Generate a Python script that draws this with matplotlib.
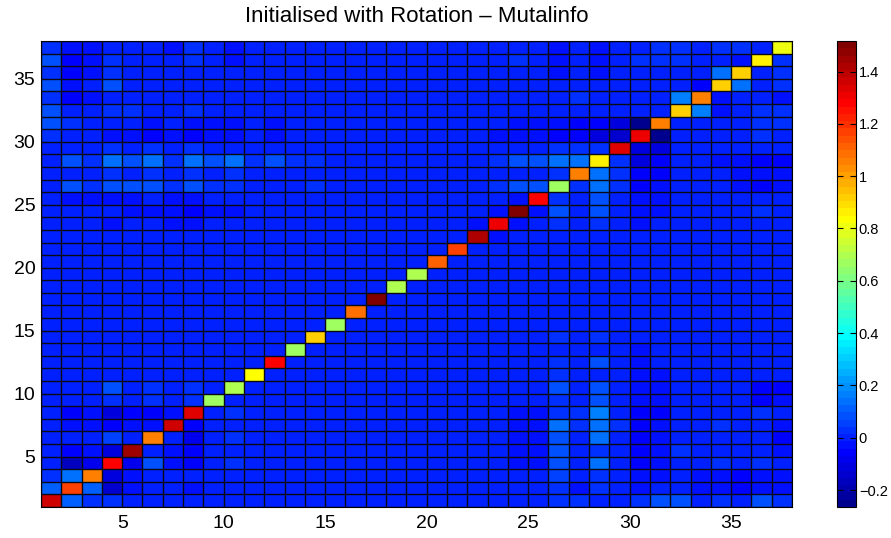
import numpy as np
import matplotlib
matplotlib.use("Agg")
import matplotlib.pyplot as plt
from matplotlib.colors import ListedColormap

plt.rcParams['font.family'] = ['Liberation Sans', 'DejaVu Sans']

title = "Initialised with Rotation \u2013 Mutalinfo"
xticks = [5, 10, 15, 20, 25, 30, 35]
yticks = [5, 10, 15, 20, 25, 30, 35]
cbar_ticks = [-0.2, 0, 0.2, 0.4, 0.6, 0.8, 1, 1.2, 1.4]
cbar_labels = ['\u22120.2', '0', '0.2', '0.4', '0.6', '0.8', '1', '1.2', '1.4']
clim = (-0.265, 1.517)

# diagonal values, row/column 1 .. 37
diagonal = [1.35, 1.17, 1.06, 1.28, 1.46, 1.06, 1.35, 1.34, 0.67, 0.69,
            0.84, 1.28, 0.67, 0.93, 0.67, 1.08, 1.51, 0.70, 0.70, 1.11,
            1.17, 1.43, 1.32, 1.51, 1.28, 0.67, 1.06, 0.85, 1.34, 1.31,
            1.06, 0.92, 1.06, 0.92, 0.92, 0.85, 0.81]

Z = [0] * 10
# off-diagonal values, rows listed bottom (row 1) to top (row 37); 37 columns each
# (diagonal entries here are placeholders replaced by `diagonal`)
values = [
    [0, .12, .04, .02, 0, 0, 0, 0, 0, 0] + Z + [0, 0, 0, 0, 0, .04, .02, 0, 0, .04] + [.08, .08, 0, .04, 0, .08, .04],
    [.12, 0, .12, -.15, -.02, 0, 0, -.02, 0, 0] + Z + [0, 0, 0, 0, 0, .04, -.02, .04, 0, -.02] + [0, 0, -.02, -.02, -.05, -.02, -.02],
    [.04, .15, 0, -.12, -.02, 0, 0, 0, 0, 0] + Z + [0, 0, 0, 0, 0, .06, 0, .04, 0, -.02] + [-.02, 0, -.02, -.04, -.05, -.02, -.02],
    [0, -.18, -.08, 0, -.08, .08, -.02, -.06, 0, .04] + Z + [0, 0, 0, -.02, -.02, .08, 0, .13, 0, -.05] + [-.02, 0, 0, .04, 0, .04, 0],
    [0, -.06, -.02, -.12, 0, 0, -.02, -.06, 0, 0] + Z + [0, 0, 0, -.02, -.02, .08, 0, .04, 0, -.05] + [-.02, .04, 0, 0, 0, 0, -.02],
    [0, 0, 0, .05, 0, 0, 0, -.08, 0, .04] + Z + [0, 0, 0, -.02, -.02, .08, 0, .13, 0, -.05] + [-.02, 0, 0, 0, 0, 0, -.05],
    [0, -.02, -.02, -.06, -.02, -.02, 0, -.06, 0, 0] + Z + [0, 0, 0, -.02, -.02, .13, .04, .13, .04, -.05] + [-.02, 0, 0, .04, 0, 0, -.02],
    [0, -.06, -.02, -.12, -.06, -.06, -.02, 0, 0, .04] + Z + [0, 0, 0, -.02, -.02, .04, .04, .16, 0, -.06] + [-.06, 0, 0, 0, 0, .04, 0],
    [0, 0, 0, .04, 0, .04, 0, .04, 0, 0] + Z + [0, 0, 0, 0, 0, .04, 0, .08, 0, -.02] + [-.02, 0, 0, 0, 0, -.05, -.02],
    [0, 0, 0, .08, 0, .04, 0, .04, 0, 0] + Z + [0, 0, 0, 0, 0, .08, 0, .08, 0, -.02] + [-.02, 0, 0, 0, 0, -.05, -.05],
    Z + Z + [0, 0, 0, 0, 0, .04, 0, 0, 0, -.02] + [-.02, 0, 0, 0, 0, 0, 0],
    Z + Z + [0, 0, 0, 0, 0, .04, 0, .08, 0, -.02] + [0, 0, 0, 0, 0, 0, 0],
    Z + Z + [0, 0, 0, 0, 0, 0, 0, 0, 0, -.02] + [0, 0, 0, 0, 0, 0, 0],
    Z + Z + [0, 0, 0, 0, 0, .04, 0, .04, 0, 0] + [0, 0, 0, 0, 0, 0, 0],
    Z + Z + Z + [0, 0, 0, 0, 0, 0, 0],
    Z + Z + Z + [0, 0, 0, 0, 0, 0, 0],
    Z + Z + Z + [0, 0, 0, 0, 0, 0, 0],
    Z + Z + Z + [0, 0, 0, 0, 0, 0, 0],
    Z + Z + Z + [0, 0, 0, 0, 0, 0, 0],
    Z + Z + Z + [0, 0, 0, 0, 0, 0, 0],
    Z + Z + Z + [0, 0, 0, 0, 0, 0, 0],
    Z + Z + [0, 0, -.02, 0, 0, 0, 0, 0, 0, 0] + [0, 0, 0, 0, 0, 0, 0],
    [0, 0, 0, -.02, 0, 0, -.02, -.02, 0, 0] + Z + [0, -.02, 0, -.02, 0, .04, 0, .04, 0, -.02] + [0, 0, 0, 0, 0, 0, 0],
    [0, 0, 0, 0, -.02, -.02, -.02, -.05, -.02, -.02] + Z + [0, 0, -.02, 0, -.02, .08, 0, .08, 0, -.02] + [-.02, 0, 0, 0, 0, .04, 0],
    [0, -.02, -.02, -.02, -.02, 0, -.02, -.02, 0, 0] + Z + [0, 0, 0, -.02, 0, .04, 0, .08, 0, -.02] + [-.02, 0, 0, 0, 0, 0, 0],
    [0, .08, .04, .08, .08, .08, .04, .08, .04, .04] + [0, 0, 0, .04, 0, 0, 0, 0, 0, 0] + [0, 0, .04, .08, .08, 0, .04, .13, .04, -.05] + [-.02, 0, 0, 0, -.02, -.05, -.02],
    [0, 0, 0, .04, 0, .04, 0, .04, 0, .04] + Z + [0, 0, 0, 0, 0, .04, 0, .13, .04, -.05] + [-.05, 0, 0, 0, -.02, -.02, -.02],
    [0, .08, .04, .13, .08, .13, .04, .13, .08, .13] + [.04, .08, .04, .04, 0, 0, 0, 0, 0, 0] + [0, 0, .04, .08, .08, .13, .13, 0, .04, -.12] + [-.06, 0, 0, -.02, -.02, -.05, -.05],
    [0, 0, 0, .04, 0, .04, 0, .04, 0, 0] + Z + [0, 0, 0, 0, 0, .04, .04, .04, 0, -.12] + [-.12, 0, 0, 0, 0, 0, 0],
    [.04, 0, 0, -.02, -.02, -.05, -.02, -.05, -.02, -.02] + [0, -.02, 0, 0, 0, 0, 0, 0, 0, 0] + [0, 0, -.02, -.02, -.02, -.06, -.06, -.12, -.14, 0] + [-.25, 0, 0, 0, 0, .04, 0],
    [.08, .04, 0, 0, 0, -.02, 0, -.02, -.02, -.02] + [0, -.02, 0, 0, 0, 0, 0, 0, 0, 0] + [0, 0, 0, -.02, -.02, -.02, -.06, -.06, -.12, -.25] + [0, 0, 0, 0, 0, .04, .04],
    [.08, 0, 0, .04, .04, 0, 0, .04, 0, 0] + Z + Z + [0, 0, .18, -.02, 0, .04, .04],
    [.04, -.05, -.02, 0, 0, 0, 0, 0, 0, 0] + Z + [0, 0, 0, 0, 0, 0, .04, 0, 0, 0] + [0, .18, 0, -.02, 0, 0, -.02],
    [.08, -.02, 0, .08, 0, 0, 0, 0, 0, 0] + Z + Z + [0, 0, -.06, 0, .13, 0, .04],
    [.04, -.05, -.02, .04, 0, 0, 0, 0, 0, 0] + Z + [0, 0, 0, 0, 0, -.02, 0, -.02, 0, 0] + [0, 0, 0, .13, 0, 0, .04],
    [.08, -.05, -.02, .04, 0, 0, 0, .04, 0, -.02] + Z + [0, 0, 0, .04, 0, -.04, 0, -.02, 0, .04] + [.04, .04, 0, 0, -.02, 0, .04],
    [.04, -.02, -.02, 0, 0, 0, -.02, .04, 0, -.02] + Z + [0, 0, 0, 0, 0, -.02, 0, -.02, 0, 0] + [.04, .04, 0, .04, .04, 0, 0],
]


def matlab_jet(m=64):
    # reproduces MATLAB's jet(m) colour table
    k = int(np.ceil(m / 4))
    u = np.concatenate([np.arange(1, k + 1) / k, np.ones(k - 1), np.arange(k, 0, -1) / k])
    g = int(np.ceil(k / 2)) - (1 if m % 4 == 1 else 0) + np.arange(1, len(u) + 1)
    r = g + k
    b = g - k
    J = np.zeros((m, 3))
    for ch, idx in ((0, r), (1, g), (2, b)):
        ok = (idx >= 1) & (idx <= m)
        J[idx[ok] - 1, ch] = u[ok]
    return ListedColormap(J)


C = np.array(values, dtype=float)
n = C.shape[0]
C[np.arange(n), np.arange(n)] = diagonal
edges = np.arange(1, n + 2)

W, H = 891, 538
fig = plt.figure(figsize=(W / 100, H / 100), dpi=100)
ax = fig.add_axes([41 / W, 31 / H, 751 / W, 466 / H])
cmap = matlab_jet(64)
mesh = ax.pcolormesh(edges, edges, C, cmap=cmap, vmin=clim[0], vmax=clim[1],
                     edgecolors='none', antialiased=False)
ax.vlines(edges, 1, n + 1, colors='#0a0a14', linewidth=1.0, snap=True)
ax.hlines(edges, 1, n + 1, colors='#0a0a14', linewidth=1.0, snap=True)
ax.set_xlim(1, n + 1)
ax.set_ylim(1, n + 1)
ax.set_xticks(xticks)
ax.set_yticks(yticks)
ax.tick_params(direction='in', length=4, labelsize=14, pad=6)
ax.tick_params(axis='y', pad=4)
for s in ax.spines.values():
    s.set_linewidth(0.8)

fig.text(416.5 / W, 1 - 17 / H, title, ha='center', va='center', fontsize=16)

cax = fig.add_axes([837 / W, 31 / H, 19 / W, 466 / H])
cb = fig.colorbar(mesh, cax=cax, ticks=cbar_ticks)
cb.outline.set_linewidth(0.8)
cax.tick_params(direction='in', length=4, labelsize=10.5, pad=2, left=True, right=True)
cax.set_yticklabels(cbar_labels)

fig.savefig('out.png', dpi=100)
